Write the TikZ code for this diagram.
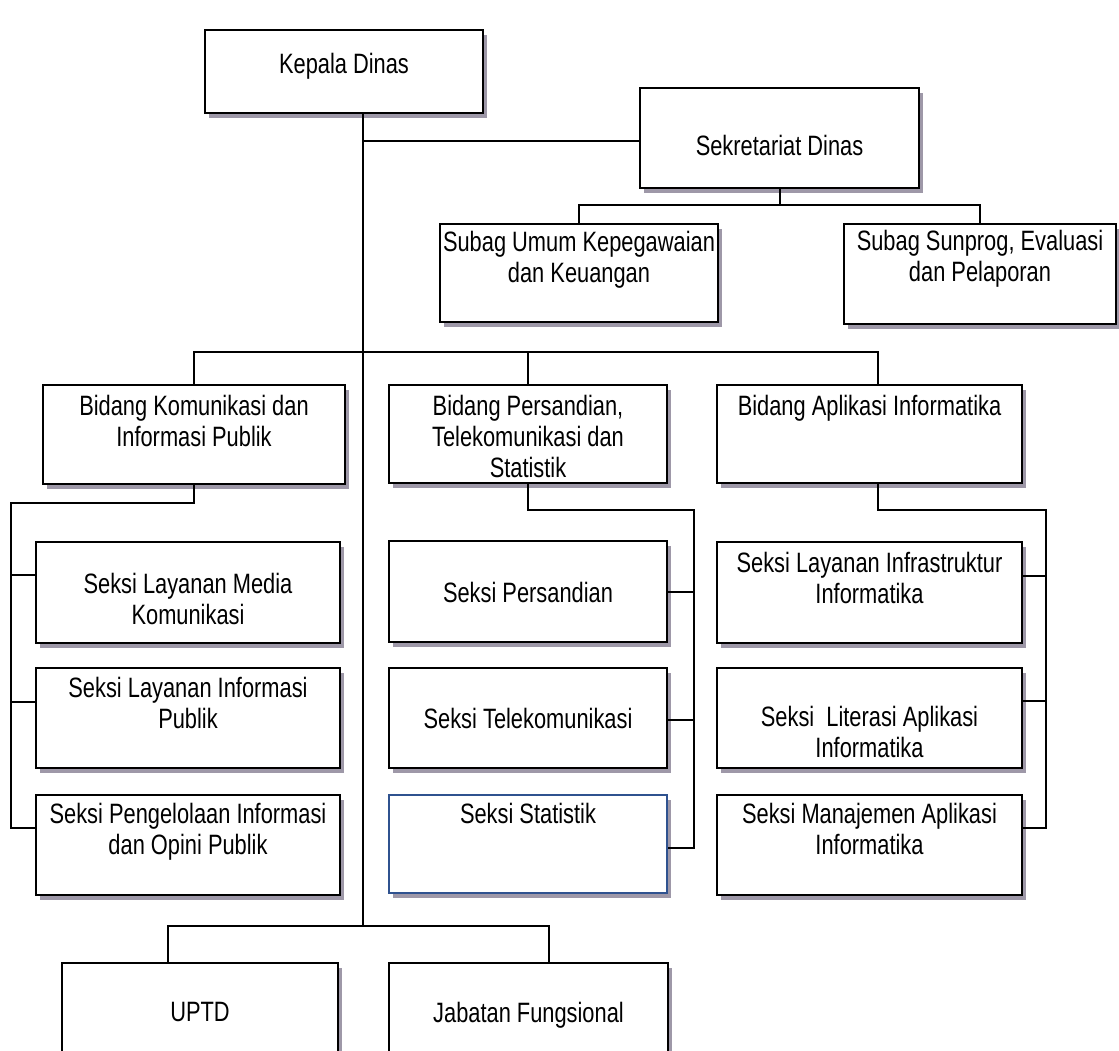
\documentclass[tikz,border=0pt]{standalone}
\usepackage{fontspec}
\setmainfont{Liberation Sans}
\newfontfamily\orgfont[FakeStretch=0.78]{Liberation Sans}
\usetikzlibrary{fit,shadows}

\definecolor{shadowgray}{RGB}{158,152,168}
\definecolor{statblue}{RGB}{47,82,143}

\tikzset{
  unit/.style={draw, line width=2.6pt, fill=white, inner sep=0pt,
    drop shadow={shadow xshift=4pt, shadow yshift=-5pt, fill=shadowgray, opacity=1}},
  txt/.style={inner sep=0pt, align=center, font=\orgfont\fontsize{28pt}{31pt}\selectfont},
  link/.style={line width=2pt},
}

% box from (x1,y1) to (x2,y2), first text line centred at y
\newcommand{\orgunit}[8][]{%
  \node[unit,#1, fit={(#3,#4) (#5,#6)}] (#2) {};
  \node[txt, anchor=north] (#2-txt) at ({(#3+#5)/2},#7-10) {#8};
}

\begin{document}
\begin{tikzpicture}[x=1pt,y=-1pt]
  \useasboundingbox (0,0) rectangle (1119,1050);
  \clip (0,0) rectangle (1119,1050);

  % top
  \orgunit{kepala}{205}{30}{483}{113}{63}{Kepala Dinas}
  \orgunit{sekretariat}{640}{88}{919}{188}{145}{Sekretariat Dinas}
  \orgunit{umum}{440}{224}{718}{322}{241}{Subag Umum Kepegawaian\\dan Keuangan}
  \orgunit{sunprog}{844}{224}{1116}{324}{240}{Subag Sunprog, Evaluasi\\dan Pelaporan}

  % bidang
  \orgunit{komunikasi}{43}{385}{345}{484}{405}{Bidang Komunikasi dan\\Informasi Publik}
  \orgunit{persandian}{389}{385}{667}{483}{405}{Bidang Persandian,\\Telekomunikasi dan\\Statistik}
  \orgunit{aplikasi}{717}{385}{1022}{483}{405}{Bidang Aplikasi Informatika}

  % seksi
  \orgunit{media}{36}{542}{340}{643}{583}{Seksi Layanan Media\\Komunikasi}
  \orgunit{infopub}{36}{668}{340}{768}{687}{Seksi Layanan Informasi\\Publik}
  \orgunit{opini}{36}{795}{340}{895}{813}{Seksi Pengelolaan Informasi\\dan Opini Publik}
  \orgunit{sandi}{389}{541}{667}{642}{592}{Seksi Persandian}
  \orgunit{telekom}{389}{668}{667}{768}{718}{Seksi Telekomunikasi}
  \orgunit[draw=statblue, line width=2pt]{statistik}{389}{795}{667}{893}{813}{Seksi Statistik}
  \orgunit{infra}{717}{542}{1022}{643}{562}{Seksi Layanan Infrastruktur\\Informatika}
  \orgunit{literasi}{717}{668}{1022}{768}{716}{Seksi~ Literasi Aplikasi\\Informatika}
  \orgunit{manajemen}{717}{795}{1022}{895}{813}{Seksi Manajemen Aplikasi\\Informatika}

  % bottom
  \orgunit{uptd}{62}{963}{338}{1061}{1012}{UPTD}
  \orgunit{jabatan}{389}{963}{668}{1061}{1012}{Jabatan Fungsional}

  % lines
  \coordinate (j-sek) at (363,141);
  \coordinate (j-bid) at (363,352);
  \coordinate (j-bot) at (363,926);
  \draw[link] (kepala.south -| j-bot) -- (j-bot);
  \draw[link] (j-sek) -- (sekretariat.west |- j-sek);
  \draw[link] (sekretariat.south) -- ++(0,16) coordinate (bar-sub);
  \draw[link] (umum.north) |- (bar-sub) -| (sunprog.north);
  \draw[link] (komunikasi.north) |- (j-bid) -| ([xshift=8pt]aplikasi.north);
  \draw[link] (persandian.north) -- (persandian.north |- j-bid);

  \coordinate (rail-kom) at (11,503);
  \draw[link] (komunikasi.south) |- (rail-kom) |- ([yshift=17pt]opini.west);
  \draw[link] (rail-kom) |- ([yshift=18pt]media.west);
  \draw[link] (rail-kom) |- ([yshift=16pt]infopub.west);

  \coordinate (rail-per) at (694,510);
  \draw[link] (persandian.south) |- (rail-per) |- ([yshift=-4pt]statistik.east);
  \draw[link] (rail-per) |- (sandi.east);
  \draw[link] (rail-per) |- ([yshift=-2pt]telekom.east);

  \coordinate (rail-apl) at (1046,510);
  \draw[link] ([xshift=8pt]aplikasi.south) |- (rail-apl) |- ([yshift=17pt]manajemen.east);
  \draw[link] (rail-apl) |- ([yshift=17pt]infra.east);
  \draw[link] (rail-apl) |- ([yshift=17pt]literasi.east);

  \draw[link] ([xshift=-32pt]uptd.north) |- (j-bot) -| ([xshift=20pt]jabatan.north);
\end{tikzpicture}
\end{document}
